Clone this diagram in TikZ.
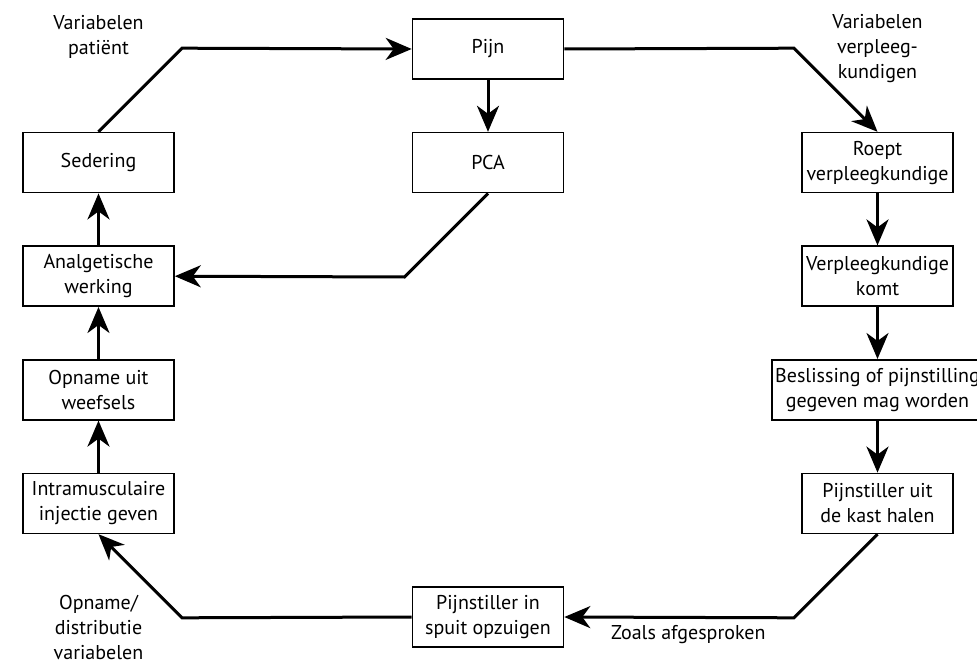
\documentclass[tikz,border=0pt]{standalone}
\usepackage{fontspec}
\setmainfont{PT Sans}
\usetikzlibrary{arrows.meta}

\begin{document}
\begin{tikzpicture}
	\tikzstyle{stap} = [draw, rectangle, line width=0.8pt, minimum height=30pt, minimum width=75.5pt, inner xsep=1.5pt, align=center, node distance=56.8pt, font={\fontsize{10}{12.5}\selectfont}]
	\tikzstyle{tekst} = [align=center, font={\fontsize{10}{12.5}\selectfont}]
	\tikzstyle{pijl} = [line width=1.5pt, -{Stealth[length=13pt, width=11pt, inset=4pt]}]
	\useasboundingbox (-244pt,24.5pt) rectangle (244.5pt,-307pt);
	\node[stap] (pijn) {Pijn};
	\node[stap] (pca) [below of=pijn] {PCA};
	\node[stap, node distance=194.75pt] (sedering) [left of=pca] {Sedering};
	\node[stap] (analg) [below of=sedering] {Analgetische\\werking};
	\node[stap] (opname) [below of=analg] {Opname uit\\weefsels};
	\node[stap] (injectie) [below of=opname] {Intramusculaire\\injectie geven};
	\node[stap, node distance=284pt] (spuit) [below of=pijn] {Pijnstiller in\\spuit opzuigen};
	\node[stap, node distance=194.75pt] (roept) [right of=pca] {Roept\\verpleegkundige};
	\node[stap] (komt) [below of=roept] {Verpleegkundige\\komt};
	\node[stap] (beslis) [below of=komt] {Beslissing of pijnstilling\\gegeven mag worden};
	\node[stap] (kast) [below of=beslis] {Pijnstiller uit\\de kast halen};
	\node[tekst, yshift=6pt] (varpat) at (sedering |- pijn) {Variabelen\\patiënt};
	\node[tekst] (varverpl) at (roept |- pijn) {Variabelen\\verpleeg-\\kundigen};
	\node[tekst, yshift=-5pt] (vardistr) at (injectie |- spuit) {Opname/\\distributie\\variabelen};
	\draw[pijl] (sedering.north) -- ++(41.8pt,41.8pt) -- (pijn.west);
	\draw[pijl] (pijn.east) -- ([shift={(-41.8pt,41.8pt)}]roept.north) -- (roept.north);
	\draw[pijl] (pijn) -- (pca);
	\draw[pijl] (pca.south) -- ++(-41.8pt,-41.8pt) -- (analg.east);
	\draw[pijl] (roept) -- (komt);
	\draw[pijl] (komt) -- (beslis);
	\draw[pijl] (beslis) -- (kast);
	\draw[pijl] (kast.south) -- ++(-41.8pt,-41.8pt) -- node[tekst, below, pos=0.46] (afspraak) {Zoals afgesproken} (spuit.east);
	\draw[pijl] (spuit.west) -- ([shift={(41.8pt,-41.8pt)}]injectie.south) -- (injectie.south);
	\draw[pijl] (injectie) -- (opname);
	\draw[pijl] (opname) -- (analg);
	\draw[pijl] (analg) -- (sedering);
\end{tikzpicture}
\end{document}
